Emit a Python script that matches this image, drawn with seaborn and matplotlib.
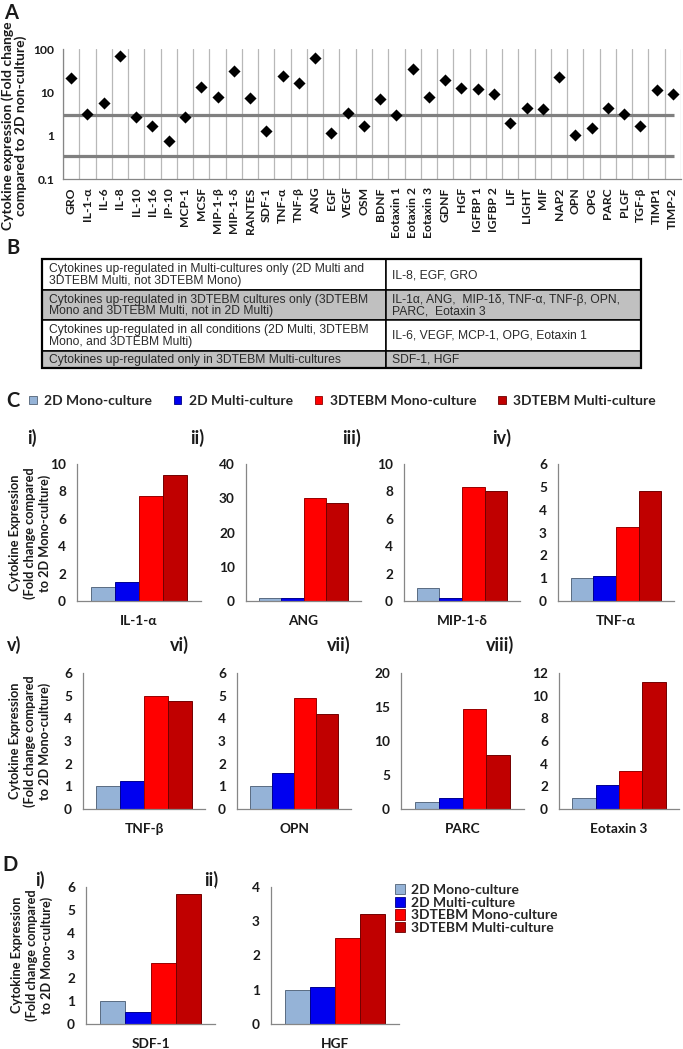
import numpy as np
import pandas as pd
import seaborn as sns
import matplotlib.pyplot as plt
from matplotlib.patches import Patch, Rectangle
from matplotlib.ticker import NullLocator
from matplotlib.colors import to_rgb

W, H = 683, 1049

# ---------------- panel A: fold change vs 2D non-culture
cytokines_a = ["GRO", "IL-1-α", "IL-6", "IL-8", "IL-10", "IL-16", "IP-10", "MCP-1", "MCSF",
               "MIP-1-β", "MIP-1-δ", "RANTES", "SDF-1", "TNF-α", "TNF-β", "ANG", "EGF", "VEGF",
               "OSM", "BDNF", "Eotaxin 1", "Eotaxin 2", "Eotaxin 3", "GDNF", "HGF", "IGFBP 1",
               "IGFBP 2", "LIF", "LIGHT", "MIF", "NAP2", "OPN", "OPG", "PARC", "PLGF", "TGF-β",
               "TIMP1", "TIMP-2"]
fold_a = [21.8, 3.2, 5.6, 70, 2.7, 1.67, 0.77, 2.74, 13.0,
          7.8, 30.5, 7.5, 1.26, 23.4, 16.1, 63, 1.15, 3.3,
          1.7, 6.9, 3.05, 33.9, 7.7, 19.3, 12.8, 11.7,
          9.2, 2.0, 4.3, 4.05, 22.6, 1.02, 1.53, 4.4, 3.1, 1.67,
          11.5, 9.2]
cutoffs_a = [3.0, 1 / 3]

# ---------------- panel B: table
table_left = [
    "Cytokines up-regulated in Multi-cultures only (2D Multi and\n3DTEBM Multi, not 3DTEBM Mono)",
    "Cytokines up-regulated in 3DTEBM cultures only (3DTEBM\nMono and 3DTEBM Multi, not in 2D Multi)",
    "Cytokines up-regulated in all conditions (2D Multi, 3DTEBM\nMono, and 3DTEBM Multi)",
    "Cytokines up-regulated only in 3DTEBM Multi-cultures",
]
table_right = [
    "IL-8, EGF, GRO",
    "IL-1α, ANG,  MIP-1δ, TNF-α, TNF-β, OPN,\nPARC,  Eotaxin 3",
    "IL-6, VEGF, MCP-1, OPG, Eotaxin 1",
    "SDF-1, HGF",
]

# ---------------- panels C and D: fold change vs 2D mono-culture
conditions = ["2D Mono-culture", "2D Multi-culture", "3DTEBM Mono-culture", "3DTEBM Multi-culture"]
cond_colors = ["#95B3D7", "#0000F0", "#FF0000", "#C00000"]

cytokines_c = ["IL-1-α", "ANG", "MIP-1-δ", "TNF-α", "TNF-β", "OPN", "PARC", "Eotaxin 3"]
mono2d_c = [1.0, 0.98, 0.98, 1.0, 1.0, 1.0, 0.98, 1.0]
multi2d_c = [1.42, 0.8, 0.22, 1.1, 1.24, 1.6, 1.62, 2.15]
mono3d_c = [7.7, 30.0, 8.3, 3.25, 4.97, 4.88, 14.7, 3.38]
multi3d_c = [9.2, 28.5, 8.02, 4.83, 4.75, 4.2, 8.0, 11.18]
ymax_c = [10, 40, 10, 6, 6, 6, 20, 12]
ystep_c = [2, 10, 2, 1, 1, 1, 5, 2]
roman_c = ["i)", "ii)", "iii)", "iv)", "v)", "vi)", "vii)", "viii)"]

cytokines_d = ["SDF-1", "HGF"]
mono2d_d = [1.0, 1.0]
multi2d_d = [0.54, 1.07]
mono3d_d = [2.69, 2.52]
multi3d_d = [5.68, 3.21]
ymax_d = [6, 4]
ystep_d = [1, 1]
roman_d = ["i)", "ii)"]

sns.set_style("white")
plt.rcParams["font.family"] = ["Lato", "DejaVu Sans"]
plt.rcParams["axes.linewidth"] = 0.9

INK = "#1a1a1a"
AXGRAY = "#868686"


def box(l, t, r, b):
    return [l / W, 1 - b / H, (r - l) / W, (b - t) / H]


def darker(c, f=0.7):
    r, g, b = to_rgb(c)
    return (r * f, g * f, b * f)


fig = plt.figure(figsize=(W / 100, H / 100), dpi=100)
ov = fig.add_axes([0, 0, 1, 1])
ov.set_xlim(0, W)
ov.set_ylim(H, 0)
ov.axis("off")

# ================= A
ax = fig.add_axes(box(63, 49, 681, 179))
sns.scatterplot(x=cytokines_a, y=fold_a, marker="D", s=38, color="black",
                linewidth=0, ax=ax, zorder=5)
ax.set_yscale("log")
ax.set_ylim(0.1, 100)
ax.set_xlim(-0.5, len(cytokines_a) - 0.5)
ax.hlines(cutoffs_a, -0.5, len(cytokines_a) - 0.9, colors="#808080", lw=2.3, zorder=3)
ax.set_xticks(range(len(cytokines_a)))
ax.set_xticklabels(cytokines_a, rotation=90, fontsize=8.7, fontweight="bold", color=INK)
ax.set_xticks(np.arange(-0.5, len(cytokines_a)), minor=True)
ax.tick_params(axis="x", which="major", length=0, pad=6)
ax.tick_params(axis="x", which="minor", length=3, width=0.8, color=AXGRAY, direction="out")
ax.grid(False)
ax.grid(True, which="minor", axis="x", color="#B8B8B8", lw=0.9)
ax.set_yticks([0.1, 1, 10, 100])
ax.set_yticklabels(["0.1", "1", "10", "100"], fontsize=8.7, fontweight="bold", color=INK)
ax.yaxis.set_minor_locator(NullLocator())
ax.tick_params(axis="y", which="major", length=3, width=0.8, color=AXGRAY, direction="out", pad=3)
for s in ["top", "right"]:
    ax.spines[s].set_visible(False)
for s in ["left", "bottom"]:
    ax.spines[s].set_color(AXGRAY)
ax.set_xlabel("")
ax.set_ylabel("")
fig.text(14 / W, 1 - 126 / H, "Cytokine expression (Fold change\ncompared to 2D non-culture)",
         rotation=90, ha="center", va="center", multialignment="center",
         fontsize=10, fontweight="bold", color=INK, linespacing=1.0)

# ================= B
rows = [259, 290, 320, 351, 368]
cols = [42, 386, 641]
fills = ["white", "#C0C0C0", "white", "#C0C0C0"]
for i in range(len(table_left)):
    for j in range(2):
        ov.add_patch(Rectangle((cols[j], rows[i]), cols[j + 1] - cols[j], rows[i + 1] - rows[i],
                               facecolor=fills[i], edgecolor="black", lw=1.1))
    yc = (rows[i] + rows[i + 1]) / 2 + 0.5
    ov.text(cols[0] + 7, yc, table_left[i], ha="left", va="center", fontsize=8.7,
            family="Liberation Sans", color="#2a2a2a", linespacing=0.98)
    ov.text(cols[1] + 6, yc, table_right[i], ha="left", va="center", fontsize=8.7,
            family="Liberation Sans", color="#2a2a2a", linespacing=0.98)
ov.add_patch(Rectangle((cols[0], rows[0]), cols[-1] - cols[0], rows[-1] - rows[0],
                       facecolor="none", edgecolor="black", lw=1.6))

# panel letters
for letter, x, y in [("A", 4, 13), ("B", 6, 248), ("C", 6, 401), ("D", 2, 865)]:
    ov.text(x, y, letter, ha="left", va="center", fontsize=14.5, fontweight="bold", color=INK)

# ================= C / D legends
handles = [Patch(facecolor=c, edgecolor=darker(c, 0.55), lw=0.6) for c in cond_colors]
fig.legend(handles, conditions, loc="center left", bbox_to_anchor=(29 / W, 1 - 401 / H),
           ncol=4, frameon=False, prop={"size": 10, "weight": "bold"}, handlelength=0.55,
           handleheight=0.55, handletextpad=0.55, columnspacing=1.55, borderpad=0,
           borderaxespad=0)
fig.legend(handles, conditions, loc="upper left", bbox_to_anchor=(395 / W, 1 - 884 / H),
           ncol=1, frameon=False, prop={"size": 10, "weight": "bold"}, handlelength=0.75,
           handleheight=0.75, handletextpad=0.4, labelspacing=0.05, borderpad=0,
           borderaxespad=0)


def draw_bars(ax, name, vals, ymax, step):
    df = pd.DataFrame({"cytokine": [name] * 4, "condition": conditions, "value": vals})
    sns.barplot(df, x="cytokine", y="value", hue="condition", hue_order=conditions,
                palette=cond_colors, saturation=1, width=0.78, linewidth=0.7,
                legend=False, ax=ax, errorbar=None)
    for p, c in zip(ax.patches, cond_colors):
        p.set_edgecolor(darker(c, 0.6))
    ax.set_ylim(0, ymax)
    ticks = np.arange(0, ymax + step / 2, step)
    ax.set_yticks(ticks)
    ax.set_yticklabels([f"{t:g}" for t in ticks], fontsize=9.8, fontweight="bold", color=INK)
    ax.set_xlim(-0.5, 0.5)
    ax.set_xticks([0])
    ax.set_xticklabels([name], fontsize=9.8, fontweight="bold", color=INK)
    ax.set_xticks([-0.5, 0.5], minor=True)
    ax.tick_params(axis="x", which="major", length=0, pad=10)
    ax.tick_params(axis="x", which="minor", length=4, width=0.8, color=AXGRAY, direction="out")
    ax.tick_params(axis="y", length=4, width=0.8, color=AXGRAY, direction="out", pad=4)
    for s in ["top", "right"]:
        ax.spines[s].set_visible(False)
    for s in ["left", "bottom"]:
        ax.spines[s].set_color(AXGRAY)
    ax.set_xlabel("")
    ax.set_ylabel("")


boxes_c = [(77, 464, 201, 601), (246, 464, 361, 601), (404, 464, 520, 601), (558, 464, 674, 601),
           (83, 673, 205, 809), (237, 673, 351, 809), (401, 673, 524, 809), (559, 673, 679, 809)]
roman_pos_c = [(27, 438), (190, 438), (342, 438), (492, 438),
               (7, 645), (170, 645), (327, 645), (486, 645)]
for k, name in enumerate(cytokines_c):
    a = fig.add_axes(box(*boxes_c[k]))
    draw_bars(a, name, [mono2d_c[k], multi2d_c[k], mono3d_c[k], multi3d_c[k]],
              ymax_c[k], ystep_c[k])
    ov.text(roman_pos_c[k][0], roman_pos_c[k][1], roman_c[k], ha="left", va="center",
            fontsize=13, fontweight="bold", color=INK)

boxes_d = [(86, 887, 215, 1024), (271, 887, 399, 1024)]
roman_pos_d = [(35, 880), (204, 880)]
for k, name in enumerate(cytokines_d):
    a = fig.add_axes(box(*boxes_d[k]))
    draw_bars(a, name, [mono2d_d[k], multi2d_d[k], mono3d_d[k], multi3d_d[k]],
              ymax_d[k], ystep_d[k])
    ov.text(roman_pos_d[k][0], roman_pos_d[k][1], roman_d[k], ha="left", va="center",
            fontsize=13, fontweight="bold", color=INK)

ylab_c = "Cytokine Expression\n(Fold change compared\nto 2D Mono-culture)"
for x, y in [(30, 533), (30, 741), (32, 955)]:
    ov.text(x, y, ylab_c, rotation=90, ha="center", va="center", multialignment="center",
            fontsize=9.2, fontweight="bold", color=INK, linespacing=1.25)

fig.savefig("out.png", dpi=100)
